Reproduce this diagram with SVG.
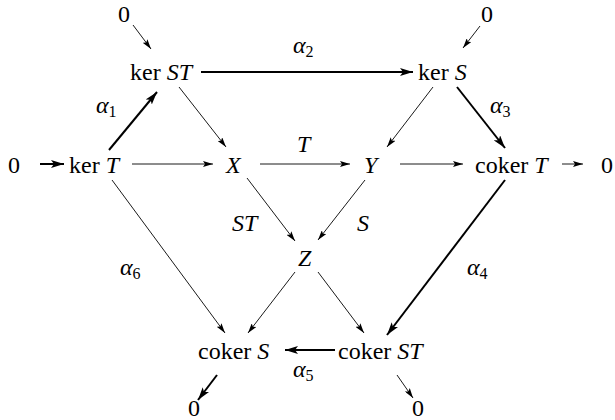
<svg xmlns="http://www.w3.org/2000/svg" width="615" height="420" viewBox="0 0 615 420">
<style>
text{font-family:'Liberation Serif','Times New Roman',Tinos,'DejaVu Serif','Noto Serif',serif;font-size:24px;fill:#000}
.i{font-style:italic}
.s{font-size:16px;font-style:normal}
.thin{stroke:#000;stroke-width:0.9;fill:none;marker-end:url(#a)}
.thick{stroke:#000;stroke-width:2;fill:none;marker-end:url(#b)}
</style>
<defs>
<marker id="a" viewBox="0 0 10 6" refX="10" refY="3" markerWidth="10" markerHeight="6" orient="auto" markerUnits="userSpaceOnUse"><path d="M0,0 L10,3 L0,6 L2,3z" fill="#000"/></marker>
<marker id="b" viewBox="0 0 13 8" refX="13" refY="4" markerWidth="13" markerHeight="8" orient="auto" markerUnits="userSpaceOnUse"><path d="M0,0 L13,4 L0,8 L3,4z" fill="#000"/></marker>
</defs>
<rect width="615" height="420" fill="#fff"/>
<g id="connectors">
<line class="thin" x1="133" y1="25" x2="151" y2="49"/>
<line class="thin" x1="480" y1="26" x2="463" y2="48"/>
<line class="thick" x1="201" y1="72" x2="413" y2="72"/>
<line class="thick" x1="109" y1="150" x2="157" y2="92"/>
<line class="thin" x1="179" y1="87" x2="226" y2="147"/>
<line class="thin" x1="433" y1="87" x2="387" y2="147"/>
<line class="thick" x1="457" y1="87" x2="505" y2="148"/>
<line class="thick" x1="40" y1="164" x2="64" y2="164"/>
<line class="thin" x1="132" y1="164" x2="213" y2="164"/>
<line class="thin" x1="260" y1="164" x2="350" y2="164"/>
<line class="thin" x1="400" y1="164" x2="463" y2="164"/>
<line class="thin" x1="562" y1="164" x2="583" y2="164"/>
<line class="thin" x1="247" y1="178" x2="295" y2="241"/>
<line class="thin" x1="365" y1="180" x2="318" y2="240"/>
<line class="thin" x1="112" y1="180" x2="225" y2="333"/>
<line class="thin" x1="295" y1="272" x2="248" y2="333"/>
<line class="thin" x1="318" y1="272" x2="364" y2="333"/>
<line class="thick" x1="505" y1="180" x2="387" y2="335"/>
<line class="thick" x1="335" y1="350" x2="285" y2="350"/>
<line class="thick" x1="217" y1="375" x2="198" y2="400"/>
<line class="thin" x1="397" y1="375" x2="413" y2="398"/>
</g>
<g id="n0a"><text x="118" y="22">0</text></g>
<g id="n0b"><text x="481" y="22">0</text></g>
<g id="kerST"><text x="130" y="80">ker <tspan class="i">ST</tspan></text></g>
<g id="kerS"><text x="418" y="80">ker <tspan class="i">S</tspan></text></g>
<g id="n0c"><text x="8" y="173">0</text></g>
<g id="kerT"><text x="69" y="173">ker <tspan class="i">T</tspan></text></g>
<g id="X"><text class="i" x="226" y="173">X</text></g>
<g id="Y"><text class="i" x="364" y="173">Y</text></g>
<g id="cokerT"><text x="475" y="173">coker <tspan class="i">T</tspan></text></g>
<g id="n0d"><text x="601" y="173">0</text></g>
<g id="Z"><text class="i" x="298" y="266">Z</text></g>
<g id="cokerS"><text x="198" y="359">coker <tspan class="i">S</tspan></text></g>
<g id="cokerST"><text x="338" y="359">coker <tspan class="i">ST</tspan></text></g>
<g id="n0e"><text x="188" y="416">0</text></g>
<g id="n0f"><text x="412" y="416">0</text></g>
<g id="labels">
<text class="i" x="293" y="53">α<tspan class="s" dy="4">2</tspan></text>
<text class="i" x="96" y="113">α<tspan class="s" dy="4">1</tspan></text>
<text class="i" x="490" y="113">α<tspan class="s" dy="4">3</tspan></text>
<text class="i" x="297" y="152">T</text>
<text class="i" x="232" y="231">ST</text>
<text class="i" x="357" y="231">S</text>
<text class="i" x="120" y="275">α<tspan class="s" dy="4">6</tspan></text>
<text class="i" x="467" y="275">α<tspan class="s" dy="4">4</tspan></text>
<text class="i" x="293" y="377">α<tspan class="s" dy="4">5</tspan></text>
</g>
</svg>
